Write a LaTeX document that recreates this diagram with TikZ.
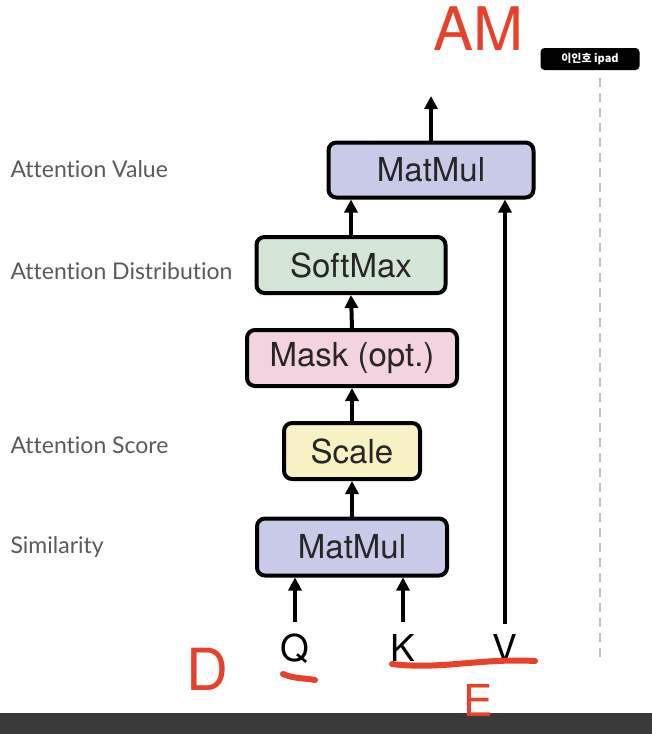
\documentclass[tikz,border=0pt]{standalone}
\usepackage{fontspec}
\setmainfont{TeX Gyre Heros}
\newfontfamily\labfont[Ligatures={NoCommon,NoDiscretionary,NoContextual}]{Lato}
\newfontfamily\krfont{Noto Sans CJK KR}
\usetikzlibrary{arrows.meta}
\definecolor{mmfill}{HTML}{C9C9E8}
\definecolor{smfill}{HTML}{D3E6D5}
\definecolor{mkfill}{HTML}{F2D3DF}
\definecolor{scfill}{HTML}{F7F1C4}
\definecolor{labgray}{HTML}{5A5A5A}
\definecolor{pen}{HTML}{E8412B}
\definecolor{barcol}{HTML}{3A3A3A}
\tikzset{
  opbox/.style={draw=black, line width=4pt, rounded corners=8pt, inner sep=0pt,
    font=\fontsize{33}{33}\selectfont, text=black!85},
  flow/.style={line width=4pt, -{Triangle[length=13pt,width=13pt]}},
  sidelab/.style={anchor=base west, font=\labfont\fontsize{23}{23}\selectfont, text=labgray},
  inlab/.style={font=\fontsize{37}{37}\selectfont, anchor=base},
  ink/.style={draw=pen, line width=6pt, line cap=round, line join=round},
  inktext/.style={text=pen, font=\fontsize{60}{60}\selectfont}
}
\begin{document}
\begin{tikzpicture}[x=1pt,y=-1pt]
\useasboundingbox (0,0) rectangle (652,734);
\fill[white] (0,0) rectangle (652,734);
% bottom bar
\fill[barcol] (0,713) rectangle (652,734);
% dashed line
\draw[black!25, line width=2pt, dash pattern=on 9pt off 6pt] (600,78) -- (600,660);
% boxes
\node[opbox, fill=mmfill, minimum width=205pt, minimum height=55pt] (mm2) at (431,170) {MatMul};
\node[opbox, fill=smfill, minimum width=189pt, minimum height=56pt] (sm) at (351,265) {SoftMax};
\node[opbox, fill=mkfill, minimum width=210pt, minimum height=56pt] (mk) at (352,358) {Mask (opt.)};
\node[opbox, fill=scfill, minimum width=136pt, minimum height=56pt] (sc) at (352,451) {Scale};
\node[opbox, fill=mmfill, minimum width=190pt, minimum height=57pt] (mm1) at (352,547) {MatMul};
% inputs
\node[inlab] (q) at (295,661) {Q};
\node[inlab] (k) at (403,661) {K};
\node[inlab] (v) at (505,661) {V};
\coordinate (qs) at (295,622);
\coordinate (ks) at (403,622);
\coordinate (vs) at (505,624);
\coordinate (out) at (431,96);
% arrows
\draw[flow] (qs) -- (qs |- mm1.south);
\draw[flow] (ks) -- (ks |- mm1.south);
\draw[flow] (vs) -- (vs |- mm2.south);
\draw[flow] (mm1.north) -- (sc.south);
\draw[flow] (sc.north) -- (mk.south);
\draw[flow] (mk.north) -- (sm.south);
\draw[flow] (sm.north) -- (sm.north |- mm2.south);
\draw[flow] (mm2.north) -- (out);
% side labels
\node[sidelab] (l1) at (7,177) {Attention Value};
\node[sidelab] (l2) at (7,279) {Attention Distribution};
\node[sidelab] (l3) at (7,453) {Attention Score};
\node[sidelab] (l4) at (7,553) {Similarity};
% badge
\node[fill=black, rounded corners=4pt, minimum width=99pt, minimum height=22pt, inner sep=0pt,
  text=white, font=\krfont\fontsize{11}{11}\selectfont\bfseries] (badge) at (590,59) {이인호 ipad};
% handwriting
\node[inktext, anchor=base] (am) at (478,50) {AM};
\node[inktext, anchor=base, font=\fontsize{58}{58}\selectfont] (d) at (207,690) {D};
\node[inktext, anchor=base, font=\fontsize{44}{44}\selectfont] (e) at (478,716) {E};
\draw[ink] (283,674) .. controls (295,679) and (305,678) .. (315,680);
\draw[ink] (392,664) .. controls (440,670) and (480,658) .. (535,661);
\end{tikzpicture}
\end{document}
